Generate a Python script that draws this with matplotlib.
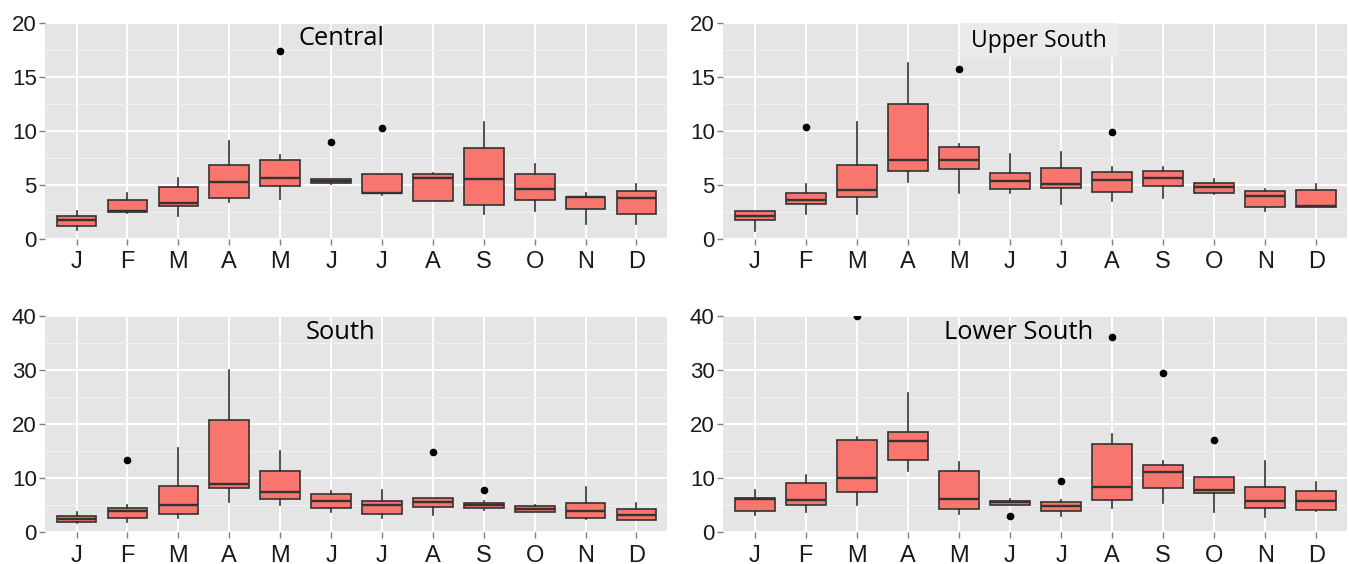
import matplotlib
matplotlib.use("Agg")
import matplotlib.pyplot as plt
from matplotlib.ticker import MultipleLocator
from matplotlib.patches import Rectangle

months = ["J", "F", "M", "A", "M", "J", "J", "A", "S", "O", "N", "D"]

# ---- Central ----
central_lo  = [0.8, 2.45, 2.1, 3.46, 3.73, 5.1, 4.04, 3.52, 2.31, 2.56, 1.36, 1.36]
central_q1  = [1.23, 2.47, 3.02, 3.83, 4.88, 5.19, 4.26, 3.52, 3.15, 3.64, 2.75, 2.35]
central_med = [1.8, 2.6, 3.33, 5.3, 5.68, 5.34, 4.3, 5.68, 5.59, 4.66, 3.86, 3.83]
central_q3  = [2.13, 3.58, 4.78, 6.82, 7.28, 5.56, 5.99, 5.99, 8.4, 5.99, 3.92, 4.41]
central_hi  = [2.56, 4.26, 5.65, 9.1, 7.75, 5.6, 5.99, 6.14, 10.8, 6.98, 4.29, 5.09]
central_out = [[], [], [], [], [17.4], [9.0], [10.3], [], [], [], [], []]

# ---- Upper South ----
upper_lo  = [0.74, 2.31, 2.31, 5.25, 4.29, 4.26, 3.24, 3.49, 3.77, 4.2, 2.59, 3.0]
upper_q1  = [1.8, 3.24, 3.92, 6.3, 6.51, 4.63, 4.72, 4.35, 4.91, 4.26, 3.0, 3.0]
upper_med = [2.1, 3.58, 4.5, 7.31, 7.31, 5.34, 5.09, 5.43, 5.65, 4.85, 3.95, 3.06]
upper_q3  = [2.56, 4.26, 6.82, 12.5, 8.52, 6.11, 6.54, 6.23, 6.33, 5.19, 4.41, 4.5]
upper_hi  = [2.6, 5.09, 10.8, 16.33, 8.83, 7.9, 8.02, 6.67, 6.67, 5.59, 4.63, 5.09]
upper_out = [[], [10.4], [], [], [15.7], [], [], [9.9], [], [], [], []]

# ---- South ----
south_lo  = [1.6, 1.79, 2.53, 5.49, 4.99, 3.64, 2.53, 3.08, 4.13, 3.7, 2.5, 2.2]
south_q1  = [1.85, 2.59, 3.39, 8.2, 6.1, 4.44, 3.39, 4.68, 4.44, 3.7, 2.59, 2.28]
south_med = [2.47, 3.88, 4.99, 8.81, 7.46, 5.73, 5.05, 5.55, 4.93, 4.31, 3.82, 3.14]
south_q3  = [2.96, 4.5, 8.5, 20.83, 11.22, 7.03, 5.67, 6.22, 5.42, 4.81, 5.42, 4.25]
south_hi  = [3.76, 4.93, 15.53, 29.95, 15.04, 7.52, 7.77, 6.22, 5.67, 4.93, 8.32, 5.42]
south_out = [[], [13.4], [], [], [], [], [], [14.8], [7.8], [], [], []]

# ---- Lower South ----
lower_lo  = [3.08, 3.64, 4.93, 11.34, 3.33, 4.99, 3.02, 4.38, 5.3, 3.64, 2.84, 3.88]
lower_q1  = [3.94, 4.93, 7.46, 13.25, 4.19, 4.99, 3.94, 5.86, 8.2, 7.15, 4.38, 4.13]
lower_med = [6.1, 5.92, 9.92, 16.83, 6.16, 5.49, 4.87, 8.32, 11.03, 7.83, 5.67, 5.73]
lower_q3  = [6.35, 9.06, 17.07, 18.49, 11.22, 5.73, 5.61, 16.33, 12.33, 10.23, 8.26, 7.52]
lower_hi  = [7.77, 10.48, 17.63, 25.7, 12.88, 6.16, 5.92, 18.18, 13.07, 10.23, 13.07, 9.18]
lower_out = [[], [], [40.0], [], [], [3.0], [9.4], [36.1], [29.5], [17.0], [], []]

FILL = "#F8766D"
EDGE = "#333333"
BG = "#E5E5E5"
TXT = "#1a1a1a"

W, H = 1349, 564
fig = plt.figure(figsize=(W / 100, H / 100), dpi=100)
fig.patch.set_facecolor("white")


def rect(l, t, r, b):
    return [l / W, 1 - b / H, (r - l) / W, (b - t) / H]


panels = [
    ("Central", rect(45, 23, 667, 239), 20, 5,
     central_lo, central_q1, central_med, central_q3, central_hi, central_out, (0.476, 0.93), 18.4, False),
    ("Upper South", rect(723, 23, 1347, 239), 20, 5,
     upper_lo, upper_q1, upper_med, upper_q3, upper_hi, upper_out, (0.507, 0.918), 16.5, True),
    ("South", rect(45, 316, 667, 532), 40, 10,
     south_lo, south_q1, south_med, south_q3, south_hi, south_out, (0.476, 0.925), 18.4, False),
    ("Lower South", rect(723, 316, 1347, 532), 40, 10,
     lower_lo, lower_q1, lower_med, lower_q3, lower_hi, lower_out, (0.473, 0.925), 18.4, False),
]

for (title, pos, ymax, step, lo, q1, med, q3, hi, out, tpos, tsize, boxed) in panels:
    ax = fig.add_axes(pos)
    ax.set_facecolor(BG)
    stats = [dict(whislo=lo[i], q1=q1[i], med=med[i], q3=q3[i], whishi=hi[i], fliers=out[i])
             for i in range(len(months))]
    ax.bxp(stats, positions=range(len(months)), widths=0.78, patch_artist=True,
           showcaps=False,
           boxprops=dict(facecolor=FILL, edgecolor=EDGE, linewidth=1.2),
           medianprops=dict(color=EDGE, linewidth=1.7),
           whiskerprops=dict(color=EDGE, linewidth=1.2),
           flierprops=dict(marker="o", markerfacecolor="black", markeredgecolor="black",
                           markersize=4.5),
           zorder=3)
    ax.set_xlim(-0.62, len(months) - 1 + 0.6)
    ax.set_ylim(0, ymax)
    ax.yaxis.set_major_locator(MultipleLocator(step))
    ax.yaxis.set_minor_locator(MultipleLocator(step / 2))
    ax.set_xticks(range(len(months)))
    ax.set_xticklabels(months)
    ax.grid(which="major", color="white", linewidth=1.4, zorder=0)
    ax.grid(which="minor", axis="y", color="#F2F2F2", linewidth=0.7, zorder=0)
    ax.set_axisbelow(True)
    for s in ax.spines.values():
        s.set_visible(False)
    ax.tick_params(axis="both", which="major", length=4, width=1, color="#7f7f7f",
                   labelcolor=TXT)
    ax.tick_params(axis="x", labelsize=17, pad=5)
    ax.tick_params(axis="y", labelsize=16, pad=2)
    ax.tick_params(axis="y", which="minor", length=0)
    for lab in ax.get_xticklabels() + ax.get_yticklabels():
        lab.set_fontfamily("Liberation Sans")
    if boxed:
        ax.add_patch(Rectangle((0.380, 0.843), 0.253, 0.157, transform=ax.transAxes,
                               facecolor="#EBEBEB", edgecolor="none", zorder=4))
    ax.text(tpos[0], tpos[1], title, transform=ax.transAxes, ha="center", va="center",
            fontsize=tsize, family="Open Sans", color="black", zorder=5)

fig.savefig("out.png", dpi=100)
